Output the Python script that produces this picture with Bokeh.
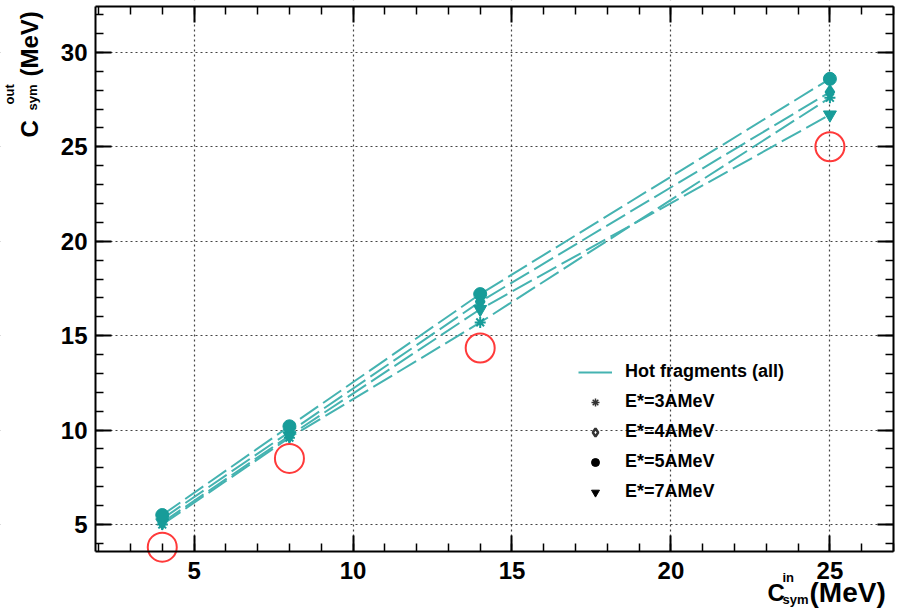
import math
from bokeh.plotting import figure
from bokeh.models import (Range1d, SingleIntervalTicker, LinearAxis, Label, Grid,
                          Legend, LegendItem, ColumnDataSource, BoxAnnotation)
from bokeh.embed import file_html
from bokeh.resources import INLINE

# ---- data ----
csym_in = [4, 8, 14, 25]
e3_out = [5.0, 9.6, 15.7, 27.6]   # E*=3AMeV (asterisk)
e4_out = [5.3, 9.9, 16.8, 27.9]   # E*=4AMeV (open diamond)
e5_out = [5.5, 10.2, 17.2, 28.6]  # E*=5AMeV (circle)
e7_out = [5.1, 9.7, 16.4, 26.7]   # E*=7AMeV (triangle down)
input_out = [3.8, 8.5, 14.35, 25.0]  # red circles
x_ticks_major = [5, 10, 15, 20, 25]
y_ticks_major = [5, 10, 15, 20, 25, 30]

TEAL = "#179c99"
LTEAL = "#45b3b1"
FONT = "Liberation Sans"

# ---- layout: frame covers whole canvas; the axes box is drawn with fixed axes ----
W, H = 899, 616
BX0, BX1 = 1.9, 27.0          # data box x
BY0, BY1 = 3.57, 32.43        # data box y
PX0, PX1 = 95, 893            # box pixel x
PY1, PY0 = 6, 551             # box pixel top / bottom
sx = (PX1 - PX0) / (BX1 - BX0)
sy = (PY0 - PY1) / (BY1 - BY0)
xr = Range1d(BX0 - PX0 / sx, BX1 + (W - PX1) / sx)
yr = Range1d(BY0 - (H - PY0) / sy, BY1 + PY1 / sy)

p = figure(width=W, height=H, output_backend="svg", toolbar_location=None,
           x_range=xr, y_range=yr, x_axis_location=None, y_axis_location=None,
           min_border_left=0, min_border_right=0, min_border_top=0,
           min_border_bottom=0)
p.outline_line_color = None
p.background_fill_color = "white"
p.center = [c for c in p.center if not isinstance(c, Grid)]

def make_axis(side, loc, bounds, labels=False, lines=True):
    ax = LinearAxis(fixed_location=loc, bounds=bounds,
                    ticker=SingleIntervalTicker(interval=5, num_minor_ticks=5))
    ax.axis_line_width = 2
    ax.major_tick_in = 16
    ax.major_tick_out = 0
    ax.minor_tick_in = 8
    ax.minor_tick_out = 0
    ax.major_tick_line_width = 2
    ax.minor_tick_line_width = 1.5
    if not lines:
        ax.axis_line_color = None
        ax.major_tick_line_color = None
        ax.minor_tick_line_color = None
    if labels:
        ax.major_label_text_font = FONT
        ax.major_label_text_font_style = "bold"
        ax.major_label_text_font_size = "24px"
        ax.major_label_text_color = "black"
        ax.major_label_standoff = 0
    else:
        ax.major_label_text_color = None
    p.add_layout(ax, side)
    return ax

# box edges with inward ticks
make_axis("below", BY0, (BX0, BX1))
make_axis("left", BX0, (BY0, BY1))
make_axis("above", BY1, (BX0, BX1))
make_axis("right", BX1, (BY0, BY1))
# tick-label axes, set a little outside the box
make_axis("below", BY0 - 10 / sy, (BX0, BX1), labels=True, lines=False)
make_axis("left", BX0 - 8 / sx, (BY0, BY1), labels=True, lines=False)

# grids
for dim in (0, 1):
    g = Grid(dimension=dim, ticker=SingleIntervalTicker(interval=5),
             bounds=(BX0, BX1) if dim == 0 else (BY0, BY1))
    g.grid_line_color = "#444444"
    g.grid_line_dash = "2 3"
    g.grid_line_width = 1.2
    p.add_layout(g, "center")

# white masks outside the box (hide grid lines beyond the box), kept inside the frame
x_lo, x_hi, y_lo, y_hi = xr.start, xr.end, yr.start, yr.end
for (l, r, b, t) in [(x_lo, BX0, y_lo, y_hi), (BX1, x_hi, y_lo, y_hi),
                     (x_lo, x_hi, y_lo, BY0), (x_lo, x_hi, BY1, y_hi)]:
    p.add_layout(BoxAnnotation(left=l, right=r, bottom=b, top=t, fill_color="white",
                               fill_alpha=1, line_color=None, level="underlay"))

# dashed lines
for ys in (e3_out, e4_out, e5_out, e7_out):
    p.line(csym_in, ys, line_color=LTEAL, line_width=2, line_dash="22 6")

# markers
p.scatter(csym_in, e3_out, marker="asterisk", size=11, line_color=TEAL, line_width=2)
p.scatter(csym_in, e4_out, marker="diamond", size=13, fill_color=TEAL, line_color=TEAL, line_width=2)
p.scatter(csym_in, e7_out, marker="inverted_triangle", size=13, fill_color=TEAL, line_color=TEAL)
p.scatter(csym_in, e5_out, marker="circle", size=13, fill_color=TEAL, line_color=TEAL)

# red circles
p.scatter(csym_in, input_out, marker="circle", size=29, fill_color=None,
          line_color="#ff3a3a", line_width=2)

# legend (dummy renderers)
nan = float("nan")
src = ColumnDataSource(dict(x=[nan], y=[nan]))
r_line = p.line("x", "y", source=src, line_color=LTEAL, line_width=2)
r3 = p.scatter("x", "y", source=src, marker="asterisk", size=10, line_color="#333333", line_width=1.5)
r4 = p.scatter("x", "y", source=src, marker="diamond", size=14, fill_color="white", line_color="#333333", line_width=2.5)
r5 = p.scatter("x", "y", source=src, marker="circle", size=13, fill_color="black", line_color="black")
r7 = p.scatter("x", "y", source=src, marker="inverted_triangle", size=13, fill_color="black", line_color="black")

legend = Legend(items=[
    LegendItem(label="Hot fragments (all)", renderers=[r_line]),
    LegendItem(label="E*=3AMeV", renderers=[r3]),
    LegendItem(label="E*=4AMeV", renderers=[r4]),
    LegendItem(label="E*=5AMeV", renderers=[r5]),
    LegendItem(label="E*=7AMeV", renderers=[r7]),
], location=(578, H - 502))
legend.border_line_color = None
legend.background_fill_alpha = 0
legend.padding = 0
legend.margin = 0
legend.spacing = 9
legend.glyph_width = 34
legend.glyph_height = 20
legend.label_height = 20
legend.label_standoff = 13
legend.label_text_font = FONT
legend.label_text_font_style = "bold"
legend.label_text_font_size = "18px"
legend.label_text_color = "black"
p.add_layout(legend, "center")

# axis titles (screen units; frame == canvas, origin bottom-left)
def lab(px, py, text, size, angle=0.0):
    p.add_layout(Label(x=px, y=H - py, x_units="screen", y_units="screen",
                       text=text, angle=angle, text_font=FONT, text_font_style="bold",
                       text_font_size=size, text_color="black",
                       text_align="left", text_baseline="alphabetic"))

# x title
lab(767, 592, "C", "24px")
lab(782, 577, "in", "13px")
lab(782, 599, "sym", "13px")
lab(809, 592, "(MeV)", "28px")
# y title
A = math.pi / 2
lab(29, 137, "C", "24px", A)
lab(9, 104, "out", "13px", A)
lab(32, 110, "sym", "13px", A)
lab(29, 76, "(MeV)", "24px", A)

open("out.html", "w").write(file_html(p, INLINE))
